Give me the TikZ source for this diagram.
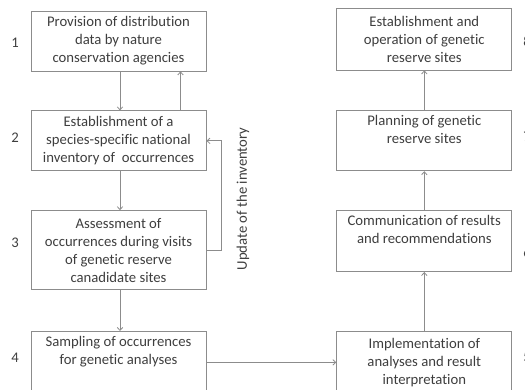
\documentclass[tikz,border=0pt]{standalone}
\usepackage{fontspec}
\setmainfont{Carlito}[Ligatures=NoCommon]
\usepackage{tikz}
\usetikzlibrary{positioning, arrows.meta}
\definecolor{linegray}{RGB}{140,140,140}
\definecolor{textgray}{RGB}{62,62,62}

\begin{document}
\begin{tikzpicture}[>={Straight Barb[length=3pt,width=5.5pt]},line width=0.8pt,
                        text=textgray,font=\fontsize{14.7pt}{18pt}\selectfont,
                        box/.style={rectangle,draw=linegray,align=center,minimum width=175pt,minimum height=60pt,inner sep=2pt},
                        link/.style={->,draw=linegray},
                        num/.style={inner sep=1pt}]
    \useasboundingbox (0,0) rectangle (525pt,-390pt);
    \clip (0,0) rectangle (525pt,-390pt);

          \node[box] (b1) at (118.5pt,-41pt) {Provision of distribution\\data by nature\\conservation agencies};
          \node[box] (b2) [below=39pt of b1] {Establishment of a\\species-specific national\\inventory of~ occurrences};
          \node[box,minimum height=79pt] (b3) [below=39pt of b2] {Assessment of\\occurrences during visits\\of genetic reserve\\canadidate sites};
          \node[box,minimum height=62pt] (b4) [below=41pt of b3] {Sampling of occurrences\\for genetic analyses\\\strut};
          \node[box,minimum height=62pt] (b5) [right=130pt of b4] {Implementation of\\analyses and result\\interpretation};
          \node[box,minimum height=61pt] (b6) [above=59pt of b5] {Communication of results\\and recommendations\\\strut};
          \node[box] (b7) [above=39pt of b6] {Planning of genetic\\reserve sites\\\strut};
          \node[box,minimum height=62pt] (b8) [above=40pt of b7] {Establishment and\\operation of genetic\\reserve sites};

          \node[num] (n1) at (15pt,-43pt) {1};
          \node[num] (n2) at (15pt,-138pt) {2};
          \node[num] (n3) at (15pt,-243pt) {3};
          \node[num] (n4) at (15pt,-358pt) {4};
          \node[num] (n5) at (527pt,-357pt) {5};
          \node[num] (n6) at (527pt,-253pt) {6};
          \node[num] (n7) at (527pt,-137pt) {7};
          \node[num] (n8) at (527pt,-42pt) {8};

          \node[rotate=90] (upd) at (243pt,-199pt) {Update of the inventory};

          \draw[link] ([xshift=1.5pt]b1.south) -- ([xshift=1.5pt]b2.north);
          \draw[link] ([xshift=62pt]b2.north) -- ([xshift=62pt]b1.south);
          \draw[link] ([xshift=1.5pt]b2.south) -- ([xshift=1.5pt]b3.north);
          \draw[link] ([xshift=1.5pt]b3.south) -- ([xshift=1.5pt]b4.north);
          \draw[link] (b4) -- (b5);
          \draw[link] (b5) -- (b6);
          \draw[link] (b6) -- (b7);
          \draw[link] (b7) -- (b8);
          \draw[link] (b3.east) -- ++(15pt,0) |- (b2.east);
       \end{tikzpicture}
\end{document}
